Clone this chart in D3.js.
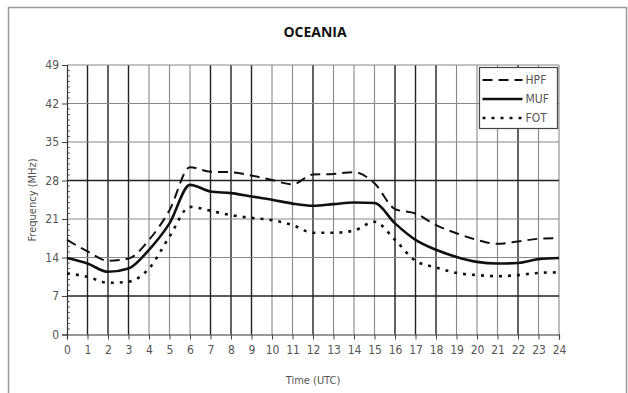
<!DOCTYPE html>
<html lang="en">
<head>
<meta charset="UTF-8">
<title>OCEANIA</title>
<style>
	*{margin:0;padding:0;}
	body{background:#fff;}
	#chart{width:628px;height:393px;}
	text{font-family:"Liberation Sans Narrow","DejaVu Sans Condensed","Liberation Sans",sans-serif;}
</style>
</head>
<body>
<div id="chart"></div>
<script src="https://cdn.jsdelivr.net/npm/d3@7/dist/d3.min.js"></script>
<script>
var hours = d3.range(0, 25)
var hpf = [17.2,15.1,13.4,13.8,17.2,22.6,30.4,29.6,29.5,28.9,28.1,27.3,29.1,29.2,29.5,27.5,22.8,22.0,19.9,18.4,17.2,16.5,16.9,17.4,17.5]
var muf = [13.9,12.9,11.4,12.0,15.4,20.2,27.2,26.0,25.7,25.1,24.5,23.8,23.4,23.7,24.0,23.9,20.2,17.2,15.4,14.1,13.2,12.9,13.0,13.7,13.9]
var fot = [11.1,10.5,9.4,9.6,12.0,17.8,23.2,22.5,21.7,21.2,20.8,19.9,18.5,18.5,18.9,20.5,17.2,13.4,12.2,11.2,10.8,10.6,10.8,11.2,11.3]
var yTicks = [0,7,14,21,28,35,42,49]
var seriesNames = ['HPF','MUF','FOT']
var darkHours = [1,2,3,7,8,9,12,16,17,18,22]
var darkFreq = [7,28]

var W = 628, H = 393
var margin = {left:67, top:65, right:69, bottom:58.5}
var gw = W - margin.left - margin.right, gh = H - margin.top - margin.bottom

var svg = d3.select('#chart').append('svg').attr('width', W).attr('height', H)

// outer frame
svg.append('rect').attr('x', 8.5).attr('y', 7.5).attr('width', 618).attr('height', 400)
	.attr('fill', 'none').attr('stroke', '#999').attr('stroke-width', 1.5)

svg.append('text').text('OCEANIA')
	.attr('x', 315).attr('y', 37).attr('text-anchor', 'middle')
	.attr('font-size', 14).attr('font-weight', 'bold').attr('fill', '#111')
	.style('font-family', '"Open Sans", sans-serif')

var g = svg.append('g').attr('transform', `translate(${margin.left},${margin.top})`)

var x = d3.scaleLinear().domain([0, 24]).range([0, gw])
var y = d3.scaleLinear().domain([0, 49]).range([gh, 0])

// grid
g.selectAll('.vgrid').data(hours.slice(1)).enter().append('line')
	.attr('x1', d => x(d)).attr('x2', d => x(d)).attr('y1', 0).attr('y2', gh)
	.attr('stroke', d => darkHours.indexOf(d) >= 0 ? '#222' : '#888')
	.attr('stroke-width', d => darkHours.indexOf(d) >= 0 ? 1.4 : 1.1)
g.selectAll('.hgrid').data(yTicks.slice(1)).enter().append('line')
	.attr('x1', 0).attr('x2', gw).attr('y1', d => y(d)).attr('y2', d => y(d))
	.attr('stroke', d => darkFreq.indexOf(d) >= 0 ? '#222' : '#888')
	.attr('stroke-width', d => darkFreq.indexOf(d) >= 0 ? 1.4 : 1.1)

// minor ticks
g.selectAll('.minor').data(d3.range(1, 49).filter(v => v % 7)).enter().append('line')
	.attr('x1', 0).attr('x2', 3).attr('y1', d => y(d)).attr('y2', d => y(d))
	.attr('stroke', '#666')

var xAxis = g.append('g').attr('transform', `translate(0,${gh})`)
	.call(d3.axisBottom(x).tickValues(hours).tickSize(5).tickPadding(6).tickFormat(d3.format('d')))
var yAxis = g.append('g')
	.call(d3.axisLeft(y).tickValues(yTicks).tickSize(5).tickPadding(3))
;[xAxis, yAxis].forEach(a => {
	a.select('.domain').attr('stroke', '#333').attr('stroke-width', 1.2)
	a.selectAll('.tick line').attr('stroke', '#444')
	a.selectAll('text').attr('fill', '#555').attr('font-size', 12)
		.style('font-family', '"Liberation Sans Narrow","DejaVu Sans Condensed",sans-serif')
})

svg.append('text').text('Frequency (MHz)')
	.attr('transform', 'translate(36,200) rotate(-90)')
	.attr('text-anchor', 'middle').attr('font-size', 11).attr('fill', '#555')
svg.append('text').text('Time (UTC)')
	.attr('x', 313).attr('y', 384).attr('text-anchor', 'middle')
	.attr('font-size', 11).attr('fill', '#555')

var line = d3.line().x((d, i) => x(hours[i])).y(d => y(d)).curve(d3.curveMonotoneX)
var styles = {
	HPF: {data: hpf, width: 2, dash: '10,6'},
	MUF: {data: muf, width: 2.6, dash: null},
	FOT: {data: fot, width: 2.6, dash: '3,6'}
}
seriesNames.forEach(function(n){
	var s = styles[n]
	g.append('path').attr('d', line(s.data))
		.attr('fill', 'none').attr('stroke', '#111')
		.attr('stroke-width', s.width).attr('stroke-dasharray', s.dash)
})

// legend
var lg = svg.append('g').attr('transform', 'translate(479.5,67.5)')
lg.append('rect').attr('width', 78).attr('height', 61)
	.attr('fill', '#fff').attr('stroke', '#444').attr('stroke-width', 1.2)
seriesNames.forEach(function(n, i){
	var s = styles[n], yy = 12.5 + i * 19
	lg.append('line').attr('x1', 3).attr('x2', 43).attr('y1', yy).attr('y2', yy)
		.attr('stroke', '#111').attr('stroke-width', s.width).attr('stroke-dasharray', s.dash)
	lg.append('text').text(n).attr('x', 46).attr('y', yy + 4)
		.attr('font-size', 12).attr('fill', '#555')
})
</script>
</body>
</html>
